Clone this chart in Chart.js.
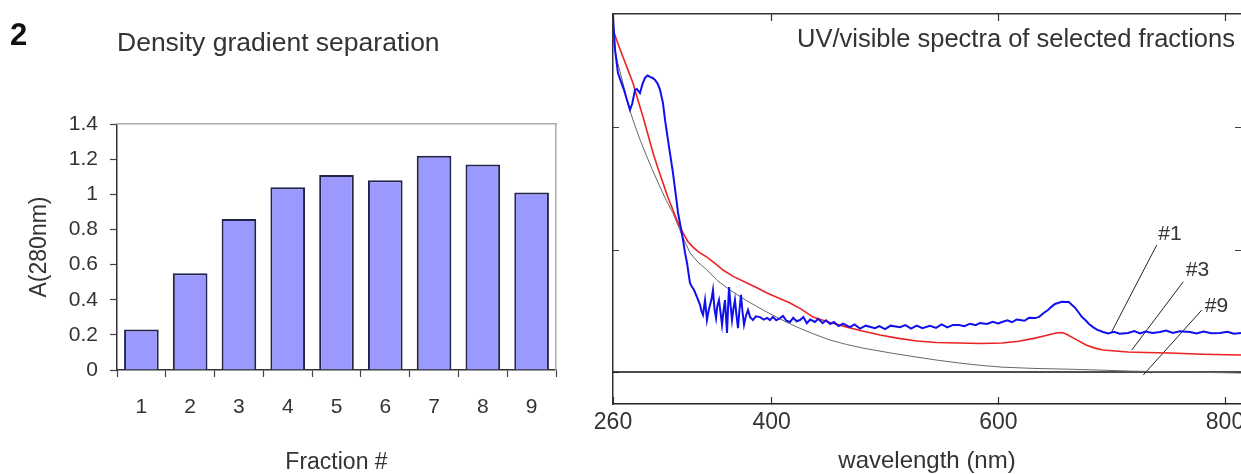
<!DOCTYPE html>
<html><head><meta charset="utf-8">
<script src="https://cdn.jsdelivr.net/npm/chart.js@4.4.1/dist/chart.umd.min.js"></script>
<style>
html,body{margin:0;padding:0;background:#fff;width:1241px;height:474px;overflow:hidden;}
#wrapL{position:absolute;left:0;top:0;width:580px;height:474px;}
#wrapR{position:absolute;left:580px;top:0;width:661px;height:474px;}
canvas{display:block;}
</style></head><body>
<div id="wrapL"><canvas id="cL" width="580" height="474"></canvas></div>
<div id="wrapR"><canvas id="cR" width="661" height="474"></canvas></div>
<script>
// ---------- Data: density gradient separation ----------
const fractions = ['1','2','3','4','5','6','7','8','9'];
const a280 = [0.23, 0.55, 0.86, 1.04, 1.11, 1.08, 1.22, 1.17, 1.01];
const yTicksLeft = [0, 0.2, 0.4, 0.6, 0.8, 1, 1.2, 1.4];
const yTickLabelsLeft = ['0','0.2','0.4','0.6','0.8','1','1.2','1.4'];

// ---------- Data: UV/visible spectra (wavelength nm, absorbance a.u.) ----------
const xTicksRight = [260, 400, 600, 800];
const xTickLabelsRight = ['260','400','600','800'];
const yTicksRight = [0, 0.5, 1];

const spectrum1 = [
 [260,1.459],[261.8,1.32],[264.4,1.225],[267,1.19],[269.7,1.156],[272,1.12],[275,1.074],[277,1.10],[279.4,1.156],[281,1.16],
 [283.8,1.143],[286,1.18],[288.2,1.205],[290.5,1.215],[292.6,1.209],[295,1.205],[297.1,1.197],[299.5,1.18],[301.5,1.156],[304.1,1.102],
 [306,1.03],[308.5,0.951],[310.5,0.89],[312.9,0.816],[315,0.74],[317.4,0.652],[319.5,0.60],[321.8,0.541],[323.5,0.49],[325.3,0.447],
 [327.9,0.365],[329.5,0.35],[331.5,0.336],[334.1,0.307],[336.8,0.275],[338,0.25],[339.4,0.234],[341.2,0.295],[342.9,0.213],[344.3,0.25],
 [345.6,0.275],[347,0.30],[348.2,0.336],[349.5,0.26],[350.9,0.221],[352,0.27],[353.5,0.295],[355,0.24],[356.2,0.193],[357.5,0.25],
 [358.8,0.295],[359.8,0.22],[360.6,0.160],[361.5,0.26],[362.4,0.348],[363.8,0.27],[365,0.213],[366.3,0.26],[367.6,0.295],[369,0.23],
 [370.3,0.180],[371.5,0.25],[372.9,0.316],[374.2,0.25],[375.6,0.193],[377.3,0.23],[379.1,0.254],[381,0.225],[383.5,0.213],[386,0.228],
 [389.7,0.225],[393,0.215],[396,0.222],[398.5,0.213],[401,0.226],[404,0.212],[407.4,0.221],[410,0.230],[413,0.210],[416.2,0.205],
 [419,0.222],[422,0.208],[425,0.213],[428,0.225],[431,0.200],[434,0.215],[438.2,0.205],[441,0.218],[445,0.200],[448,0.212],
 [451.5,0.197],[455,0.205],[459,0.188],[463,0.198],[469.1,0.184],[473,0.195],[478,0.178],[483,0.190],[491.2,0.180],[495,0.188],
 [500,0.176],[505,0.19],[513.2,0.184],[518,0.192],[523,0.178],[528,0.19],[533,0.180],[539.7,0.189],[545,0.181],[550,0.195],
 [555,0.183],[560,0.193],[565.3,0.193],[570,0.188],[575,0.198],[580,0.192],[583.8,0.201],[590,0.197],[595,0.206],[600,0.199],
 [603.2,0.205],[608,0.212],[612,0.204],[616,0.215],[619.1,0.213],[623,0.210],[627,0.222],[632.4,0.221],[636,0.226],[640,0.242],
 [643.8,0.254],[647,0.268],[650,0.279],[652.6,0.283],[656,0.288],[659.7,0.287],[662,0.288],[665,0.275],[668,0.262],[671,0.243],
 [673.8,0.225],[677,0.212],[680,0.197],[683.5,0.184],[687,0.174],[692.4,0.164],[697,0.158],[702,0.165],[707,0.157],[714.4,0.160],
 [720,0.168],[725,0.158],[730,0.166],[736,0.160],[742.7,0.164],[748,0.170],[754,0.160],[760,0.167],[769.1,0.164],[775,0.158],
 [781,0.166],[788,0.159],[795.6,0.160],[802,0.165],[808,0.157],[814.1,0.160]
];
const spectrum3 = [
 [260,1.402],[264,1.35],[268.8,1.291],[273,1.24],[277.6,1.184],[282,1.115],[286.5,1.045],[291,0.97],[295.3,0.898],[300,0.83],
 [304.1,0.775],[308.5,0.715],[312.9,0.664],[317,0.615],[321.8,0.570],[326,0.535],[330.6,0.512],[336,0.49],[342.9,0.471],[350,0.445],
 [357.1,0.418],[366,0.392],[378.2,0.365],[387,0.345],[395.9,0.324],[405,0.305],[416.2,0.283],[426,0.258],[436.5,0.225],[450,0.205],
 [466.5,0.184],[480,0.168],[495.6,0.152],[512,0.138],[528.2,0.127],[545,0.121],[565.3,0.119],[585,0.117],[603.2,0.119],[618,0.126],
 [632.4,0.139],[642,0.150],[650.9,0.160],[656,0.162],[659.7,0.156],[668,0.135],[677.4,0.111],[685,0.098],[692.4,0.090],[703,0.086],
 [714.4,0.082],[730,0.080],[751.5,0.078],[780,0.073],[814.1,0.070]
];
const spectrum9 = [
 [260,1.361],[264,1.27],[268.8,1.184],[273,1.10],[277.6,1.033],[284,0.95],[290,0.881],[296,0.815],[301.5,0.758],[307,0.703],
 [312.9,0.652],[320,0.57],[327.9,0.488],[335,0.45],[342.9,0.418],[352,0.375],[363.2,0.336],[377,0.295],[392.4,0.254],[407,0.218],
 [422.4,0.184],[437,0.156],[451.5,0.131],[466,0.113],[480.6,0.098],[505,0.078],[528.2,0.061],[547,0.048],[565.3,0.037],[585,0.027],
 [603.2,0.020],[630,0.015],[658.8,0.012],[690,0.008],[714.4,0.004],[760,0.000],[814.1,-0.004]
];
const baseline = [[260,0],[814.1,0]];

// callouts: label, label position (nm, abs), leader line start and end (nm, abs)
const calloutNames = ['#1','#3','#9'];
const calloutLabelAt = [[751.5,0.564],[775.7,0.416],[792.5,0.268]];
const calloutLineFrom = [[739.7,0.520],[763.2,0.370],[779.5,0.254]];
const calloutLineTo = [[700.0,0.165],[717.7,0.090],[727.9,-0.012]];

// ---------- Shared setup ----------
const FONT = "'Liberation Sans', Arial, Helvetica, sans-serif";
Chart.defaults.font.family = FONT;
Chart.defaults.color = '#333';

const textPlugin = {
  id: 'texts',
  afterDraw(chart, args, opts) {
    const ctx = chart.ctx;
    (opts.items || []).forEach(it => {
      ctx.save();
      ctx.font = it.font;
      ctx.fillStyle = it.color || '#333';
      ctx.textAlign = it.align || 'left';
      ctx.textBaseline = it.baseline || 'alphabetic';
      let x = it.x, y = it.y;
      if (it.data) {
        x = chart.scales.x.getPixelForValue(it.data[0]);
        y = chart.scales.y.getPixelForValue(it.data[1]);
      }
      ctx.fillText(it.text, x, y);
      ctx.restore();
    });
  }
};

const toXY = arr => arr.map(p => ({x: p[0], y: p[1]}));
const noPad = s => { s.paddingLeft = 0; s.paddingRight = 0; s.paddingTop = 0; s.paddingBottom = 0; };

// ---------- Left: bar chart ----------
new Chart(document.getElementById('cL'), {
  type: 'bar',
  plugins: [textPlugin],
  data: {
    labels: fractions,
    datasets: [{
      data: a280,
      backgroundColor: '#9999ff',
      borderColor: '#23234a',
      borderWidth: 2,
      borderSkipped: 'bottom',
      barPercentage: 0.71,
      categoryPercentage: 1
    }]
  },
  options: {
    responsive: false, animation: false, events: [],
    layout: { padding: { top: 124, right: 24, left: 0, bottom: 0 }, autoPadding: false },
    plugins: {
      legend: { display: false }, tooltip: { enabled: false },
      texts: { items: [
        { text: '2', x: 10, y: 45, font: "bold 31px " + FONT, color: '#111' },
        { text: 'Density gradient separation', x: 117, y: 51, font: "26.5px " + FONT, color: '#333' }
      ] }
    },
    scales: {
      x: {
        grid: { offset: true, drawOnChartArea: false, drawTicks: true, tickLength: 7, tickColor: '#444', tickWidth: 1.2 },
        border: { color: '#333', width: 1.5 },
        ticks: { color: '#333', font: { size: 21 }, padding: 18, maxRotation: 0, autoSkip: false },
        title: { display: true, text: 'Fraction #', color: '#333', font: { size: 23 }, padding: { top: 0, bottom: -2 } },
        afterFit: s => { s.height = 104; noPad(s); }
      },
      y: {
        min: 0, max: 1.4,
        afterBuildTicks: s => { s.ticks = yTicksLeft.map(v => ({ value: v })); },
        ticks: { color: '#333', font: { size: 21 }, padding: 12, callback: (v, i) => yTickLabelsLeft[i] },
        grid: { drawOnChartArea: false, drawTicks: true, tickLength: 7, tickColor: '#444', tickWidth: 1.2 },
        border: { color: '#333', width: 1.5 },
        title: { display: true, text: 'A(280nm)', color: '#333', font: { size: 23 }, padding: { top: 26, bottom: 0 } },
        afterFit: s => { s.width = 117; noPad(s); }
      },
      xTop: {
        type: 'category', position: 'top',
        grid: { display: false }, ticks: { display: false },
        border: { display: true, color: '#aaa', width: 1.5 },
        afterFit: s => { s.height = 0; noPad(s); }
      },
      yRight: {
        type: 'linear', position: 'right',
        grid: { display: false }, ticks: { display: false },
        border: { display: true, color: '#aaa', width: 1.5 },
        afterFit: s => { s.width = 0; noPad(s); }
      }
    }
  }
});

// ---------- Right: UV/vis spectra ----------
const calloutLineSets = calloutNames.map((n, i) => ({
  label: 'leader ' + n,
  data: toXY([calloutLineFrom[i], calloutLineTo[i]]),
  borderColor: '#222', borderWidth: 1, pointRadius: 0
}));

new Chart(document.getElementById('cR'), {
  type: 'line',
  plugins: [textPlugin],
  data: {
    datasets: [
      { label: '#1', data: toXY(spectrum1), borderColor: '#1010ee', borderWidth: 2, pointRadius: 0 },
      { label: '#3', data: toXY(spectrum3), borderColor: '#ee2222', borderWidth: 1.6, pointRadius: 0 },
      { label: '#9', data: toXY(spectrum9), borderColor: '#666', borderWidth: 1, pointRadius: 0 },
      { label: 'baseline', data: toXY(baseline), borderColor: '#111', borderWidth: 1.6, pointRadius: 0 },
      ...calloutLineSets
    ]
  },
  options: {
    responsive: false, animation: false, events: [],
    layout: { padding: { top: 14, right: 0, left: 0, bottom: 0 }, autoPadding: false },
    plugins: {
      legend: { display: false }, tooltip: { enabled: false },
      texts: { items: [
        { text: 'UV/visible spectra of selected fractions', x: 217, y: 47, font: "25.5px " + FONT, color: '#333' },
        ...calloutNames.map((n, i) => ({ text: n, data: calloutLabelAt[i], font: "21px " + FONT, color: '#333', align: 'center', baseline: 'middle' }))
      ] }
    },
    scales: {
      x: {
        type: 'linear', min: 260, max: 814.1,
        afterBuildTicks: s => { s.ticks = xTicksRight.map(v => ({ value: v })); },
        ticks: { color: '#333', font: { size: 23 }, padding: 12, maxRotation: 0, autoSkip: false, callback: (v, i) => xTickLabelsRight[i] },
        grid: { drawOnChartArea: false, drawTicks: true, tickLength: -7, tickColor: '#333', tickWidth: 1.2 },
        border: { color: '#222', width: 1.6 },
        title: { display: true, text: 'wavelength (nm)', color: '#333', font: { size: 24 }, padding: { top: 0, bottom: -2 } },
        afterFit: s => { s.height = 70; noPad(s); }
      },
      xTop: {
        type: 'linear', position: 'top', min: 260, max: 814.1,
        afterBuildTicks: s => { s.ticks = xTicksRight.map(v => ({ value: v })); },
        ticks: { display: false },
        grid: { drawOnChartArea: false, drawTicks: true, tickLength: -7, tickColor: '#333', tickWidth: 1.2 },
        border: { color: '#333', width: 1.6 },
        afterFit: s => { s.height = 0; noPad(s); }
      },
      y: {
        min: -0.131, max: 1.467,
        afterBuildTicks: s => { s.ticks = yTicksRight.map(v => ({ value: v })); },
        ticks: { display: false },
        grid: { drawOnChartArea: false, drawTicks: true, tickLength: -6, tickColor: '#444', tickWidth: 1 },
        border: { color: '#333', width: 1.5 },
        afterFit: s => { s.width = 33; noPad(s); }
      },
      yRight: {
        position: 'right', min: -0.131, max: 1.467,
        afterBuildTicks: s => { s.ticks = yTicksRight.map(v => ({ value: v })); },
        ticks: { display: false },
        grid: { drawOnChartArea: false, drawTicks: true, tickLength: -6, tickColor: '#444', tickWidth: 1 },
        border: { display: false },
        afterFit: s => { s.width = 0; noPad(s); }
      }
    }
  }
});
</script>
</body></html>
